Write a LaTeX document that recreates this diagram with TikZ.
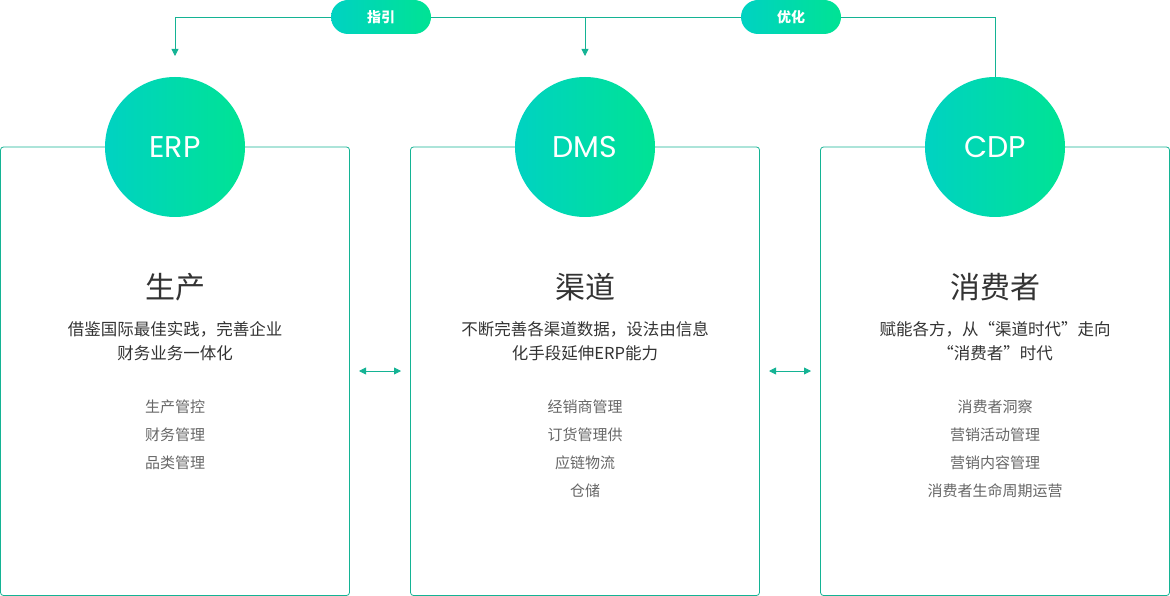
\documentclass[tikz,border=0pt]{standalone}
\usepackage{fontspec}
\setmainfont{Noto Sans CJK SC}
\newfontfamily\pop{Poppins}
\usetikzlibrary{arrows.meta,shadings}
\definecolor{ln}{HTML}{14B394}
\definecolor{gA}{HTML}{00D2C2}
\definecolor{gB}{HTML}{00E394}
\definecolor{tx}{HTML}{333333}
\definecolor{sub}{HTML}{666666}
\begin{document}
\begin{tikzpicture}[x=1pt,y=-1pt,
  box/.style={draw=ln,line width=0.8pt,rounded corners=3pt},
  circ/.style={circle,minimum size=140pt,inner sep=0,left color=gA,right color=gB,text=white,font=\pop\fontsize{30}{30}\selectfont},
  pill/.style={rounded rectangle,minimum width=100pt,minimum height=34pt,inner sep=0,left color=gA,right color=gB,text=white,font=\fontsize{14}{14}\selectfont\bfseries},
  ttl/.style={text=tx,font=\fontsize{30}{30}\selectfont},
  desc/.style={text=tx,font=\fontsize{16.5}{24}\selectfont,align=center},
  item/.style={text=sub,font=\fontsize{15}{15}\selectfont},
  con/.style={draw=ln,line width=0.8pt},
  arr/.style={con,-{Triangle[width=7pt,length=7pt]}},
  dbl/.style={con,{Triangle[width=7pt,length=7pt]}-{Triangle[width=7pt,length=7pt]}}]
\useasboundingbox (0,0) rectangle (1170,596);
\usetikzlibrary{shapes.misc}
\draw[box] (0.5,147) rectangle (349.5,595.5);
\draw[box] (410.5,147) rectangle (759.5,595.5);
\draw[box] (820.5,147) rectangle (1169.5,595.5);
\coordinate (t1) at (175,17); \coordinate (e1) at (175,56);
\coordinate (t2) at (585,17); \coordinate (e2) at (585,56);
\coordinate (t3) at (995,17);
\node[circ] (c1) at (175,147) {ERP};
\node[circ] (c2) at (585,147) {DMS};
\node[circ] (c3) at (995,147) {CDP};
\draw[con] (c3.north) -- (t3) -- (t1);
\draw[arr] (t1) -- (e1);
\draw[arr] (t2) -- (e2);
\node[pill] (p1) at (381,17) {指引};
\node[pill] (p2) at (791,17) {优化};
\node[ttl] (h1) at (175,287) {生产};
\node[ttl] (h2) at (585,287) {渠道};
\node[ttl] (h3) at (995,287) {消费者};
\node[desc] (d1) at (175,341) {借鉴国际最佳实践，完善企业\\财务业务一体化};
\node[desc] (d2) at (585,341) {不断完善各渠道数据，设法由信息\\化手段延伸ERP能力};
\node[desc] (d3) at (995,341) {赋能各方，从“渠道时代”走向\\“消费者”时代};
\foreach \i/\t in {0/生产管控,1/财务管理,2/品类管理} \node[item] (a\i) at (175,407+28*\i) {\t};
\foreach \i/\t in {0/经销商管理,1/订货管理供,2/应链物流,3/仓储} \node[item] (b\i) at (585,407+28*\i) {\t};
\foreach \i/\t in {0/消费者洞察,1/营销活动管理,2/营销内容管理,3/消费者生命周期运营} \node[item] (f\i) at (995,407+28*\i) {\t};
\coordinate (l1) at (359,371); \coordinate (r1) at (401,371);
\coordinate (l2) at (769,371); \coordinate (r2) at (811,371);
\draw[dbl] (l1) -- (r1);
\draw[dbl] (l2) -- (r2);
\end{tikzpicture}
\end{document}
